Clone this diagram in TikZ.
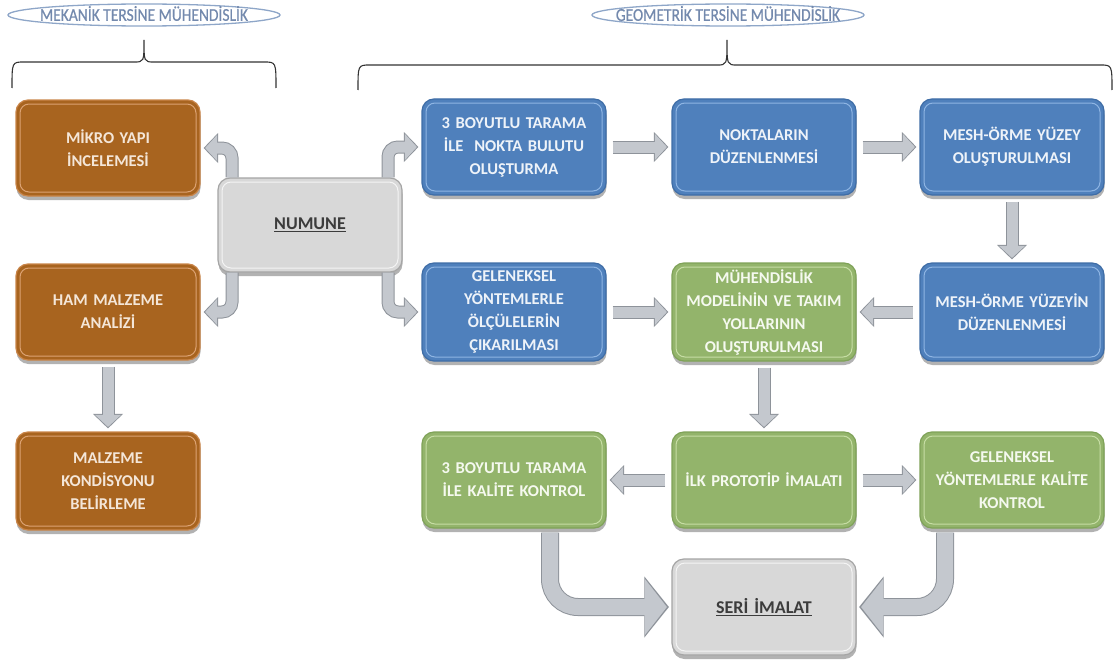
\documentclass[tikz,border=0pt]{standalone}
\usepackage{fontspec}
\setmainfont{Carlito}
\newfontfamily\hdfont[FakeStretch=0.86,FakeBold=0.6]{Carlito}
\usetikzlibrary{arrows.meta,shapes.geometric,shadows,calc}
\definecolor{brownf}{HTML}{A8641F}
\definecolor{browne}{HTML}{C9854A}
\definecolor{brownh}{HTML}{DCA272}
\definecolor{brownt}{HTML}{F4E6D8}
\definecolor{bluef}{HTML}{4F80BC}
\definecolor{bluee}{HTML}{3F6DA6}
\definecolor{blueh}{HTML}{8FB5E3}
\definecolor{bluet}{HTML}{EEF3F9}
\definecolor{greenf}{HTML}{93B46B}
\definecolor{greene}{HTML}{7FA258}
\definecolor{greenh}{HTML}{C6DDA4}
\definecolor{greent}{HTML}{F5F9EF}
\definecolor{grayf}{HTML}{D8D8D8}
\definecolor{graye}{HTML}{A5A5A5}
\definecolor{grayh}{HTML}{F4F4F4}
\definecolor{grayt}{HTML}{3C3C3C}
\definecolor{arrf}{HTML}{C4C8CE}
\definecolor{arre}{HTML}{8E939A}
\definecolor{ellc}{HTML}{8EA6C8}
\definecolor{ellt}{HTML}{7389AD}
\definecolor{bracec}{HTML}{333333}
\tikzset{
  box/.style={rounded corners=12pt, minimum width=184pt, minimum height=96pt,
    inner sep=0pt, align=center, text width=182pt,
    font=\fontsize{16.5}{23}\selectfont\bfseries, line width=1.2pt,
    drop shadow={shadow xshift=0.5pt, shadow yshift=-4pt, opacity=0.3, fill=black}},
  hl/.style={path picture={\draw[#1, line width=1pt, rounded corners=9pt]
    ([shift={(4pt,-4pt)}]path picture bounding box.north west) rectangle
    ([shift={(-4pt,4pt)}]path picture bounding box.south east);}},
  brownbox/.style={box, fill=brownf, draw=browne, text=brownt, hl=brownh},
  bluebox/.style={box, fill=bluef, draw=bluee, text=bluet, hl=blueh},
  greenbox/.style={box, fill=greenf, draw=greene, text=greent, hl=greenh},
  graybox/.style={box, fill=grayf, draw=graye, text=grayt, hl=grayh,
    font=\fontsize{18}{22}\selectfont\bfseries},
  ell/.style={ellipse, draw=ellc, line width=1.3pt, minimum width=272pt,
    minimum height=22pt, inner sep=0pt},
  elltext/.style={text=ellt, inner sep=0pt, text height=11.6pt, text depth=0pt,
    font=\hdfont\fontsize{18}{18}\selectfont},
  arr/.style={draw=arrf, line width=11pt, rounded corners=10pt,
    -{Triangle[width=26pt,length=12pt,line width=0pt]}, shorten >=4.5pt,
    preaction={draw=arre, line width=13pt,
      -{Triangle[width=30pt,length=14.5pt,line width=0pt]}, shorten >=3pt}},
  bigarr/.style={draw=arrf, line width=16pt, rounded corners=28pt,
    -{Triangle[width=56pt,length=22pt,line width=0pt]}, shorten >=4.5pt,
    preaction={draw=arre, line width=18pt,
      -{Triangle[width=61pt,length=24.5pt,line width=0pt]}, shorten >=2.5pt}},
  bracel/.style={draw=bracec, line width=1.1pt}
}
\begin{document}
\begin{tikzpicture}[x=1pt,y=-1pt]
\useasboundingbox (0,0) rectangle (1117,669);
% headers
\node[ell, label={[elltext]center:MEKANİK TERSİNE MÜHENDİSLİK}] (mek) at (144,15) {};
\node[ell, label={[elltext]center:GEOMETRİK TERSİNE MÜHENDİSLİK}] (geo) at (728,15) {};
% braces
\draw[bracel] (12,88) .. controls (12,62) .. (24,62) -- (134,62)
  .. controls (144,62) .. (144,40) .. controls (144,62) .. (154,62)
  -- (264,62) .. controls (276,62) .. (276,88);
\draw[bracel] (358,90) .. controls (358,65) .. (370,65) -- (717,65)
  .. controls (727,65) .. (727,40) .. controls (727,65) .. (737,65)
  -- (1100,65) .. controls (1112,65) .. (1112,90);
% boxes
\node[brownbox] (mikro) at (108,148) {MİKRO YAPI\\İNCELEMESİ};
\node[brownbox] (ham) at (108,312) {HAM MALZEME\\ANALİZİ};
\node[brownbox, minimum height=98pt] (malz) at (108,481) {MALZEME\\KONDİSYONU\\BELİRLEME};
\node[graybox, minimum height=94pt] (numune) at (310,225) {\underline{NUMUNE}};
\node[bluebox] (tara) at (514,147) {3 BOYUTLU TARAMA\\İLE~ NOKTA BULUTU\\OLUŞTURMA};
\node[bluebox] (nokta) at (764,147) {NOKTALARIN\\DÜZENLENMESİ};
\node[bluebox] (mesh) at (1012,147) {MESH-ÖRME YÜZEY\\OLUŞTURULMASI};
\node[bluebox, minimum height=98pt] (gelen) at (514,312) {GELENEKSEL\\YÖNTEMLERLE\\ÖLÇÜLELERİN\\ÇIKARILMASI};
\node[greenbox, minimum height=98pt] (muh) at (764,312) {MÜHENDİSLİK\\MODELİNİN VE TAKIM\\YOLLARININ\\OLUŞTURULMASI};
\node[bluebox, minimum height=98pt] (meshd) at (1012,312) {MESH-ÖRME YÜZEYİN\\DÜZENLENMESİ};
\node[greenbox] (kal3) at (514,480) {3 BOYUTLU TARAMA\\İLE KALİTE KONTROL};
\node[greenbox] (ilk) at (764,480) {İLK PROTOTİP İMALATI};
\node[greenbox] (gelk) at (1012,480) {GELENEKSEL\\YÖNTEMLERLE KALİTE\\KONTROL};
\node[graybox] (seri) at (764,607) {\underline{SERİ İMALAT}};
% arrows
\draw[arr] ([xshift=-78pt]numune.north) |- (mikro.east);
\draw[arr] ([xshift=-78pt]numune.south) |- (ham.east);
\draw[arr] ([xshift=78pt]numune.north) |- (tara.west);
\draw[arr] ([xshift=78pt]numune.south) |- (gelen.west);
\draw[arr, shorten <=6pt] (ham.south) -- (malz.north);
\draw[arr, shorten <=6pt] (tara.east) -- (nokta.west);
\draw[arr, shorten <=6pt] (nokta.east) -- (mesh.west);
\draw[arr, shorten <=6pt] (mesh.south) -- (meshd.north);
\draw[arr, shorten <=6pt] (meshd.west) -- (muh.east);
\draw[arr, shorten <=6pt] (gelen.east) -- (muh.west);
\draw[arr, shorten <=6pt] (muh.south) -- (ilk.north);
\draw[arr, shorten <=6pt] (ilk.west) -- (kal3.east);
\draw[arr, shorten <=6pt] (ilk.east) -- (gelk.west);
\draw[bigarr, shorten <=4pt] ([xshift=36pt]kal3.south) |- (seri.west);
\draw[bigarr, shorten <=4pt] ([xshift=-67pt]gelk.south) |- (seri.east);
\end{tikzpicture}
\end{document}
